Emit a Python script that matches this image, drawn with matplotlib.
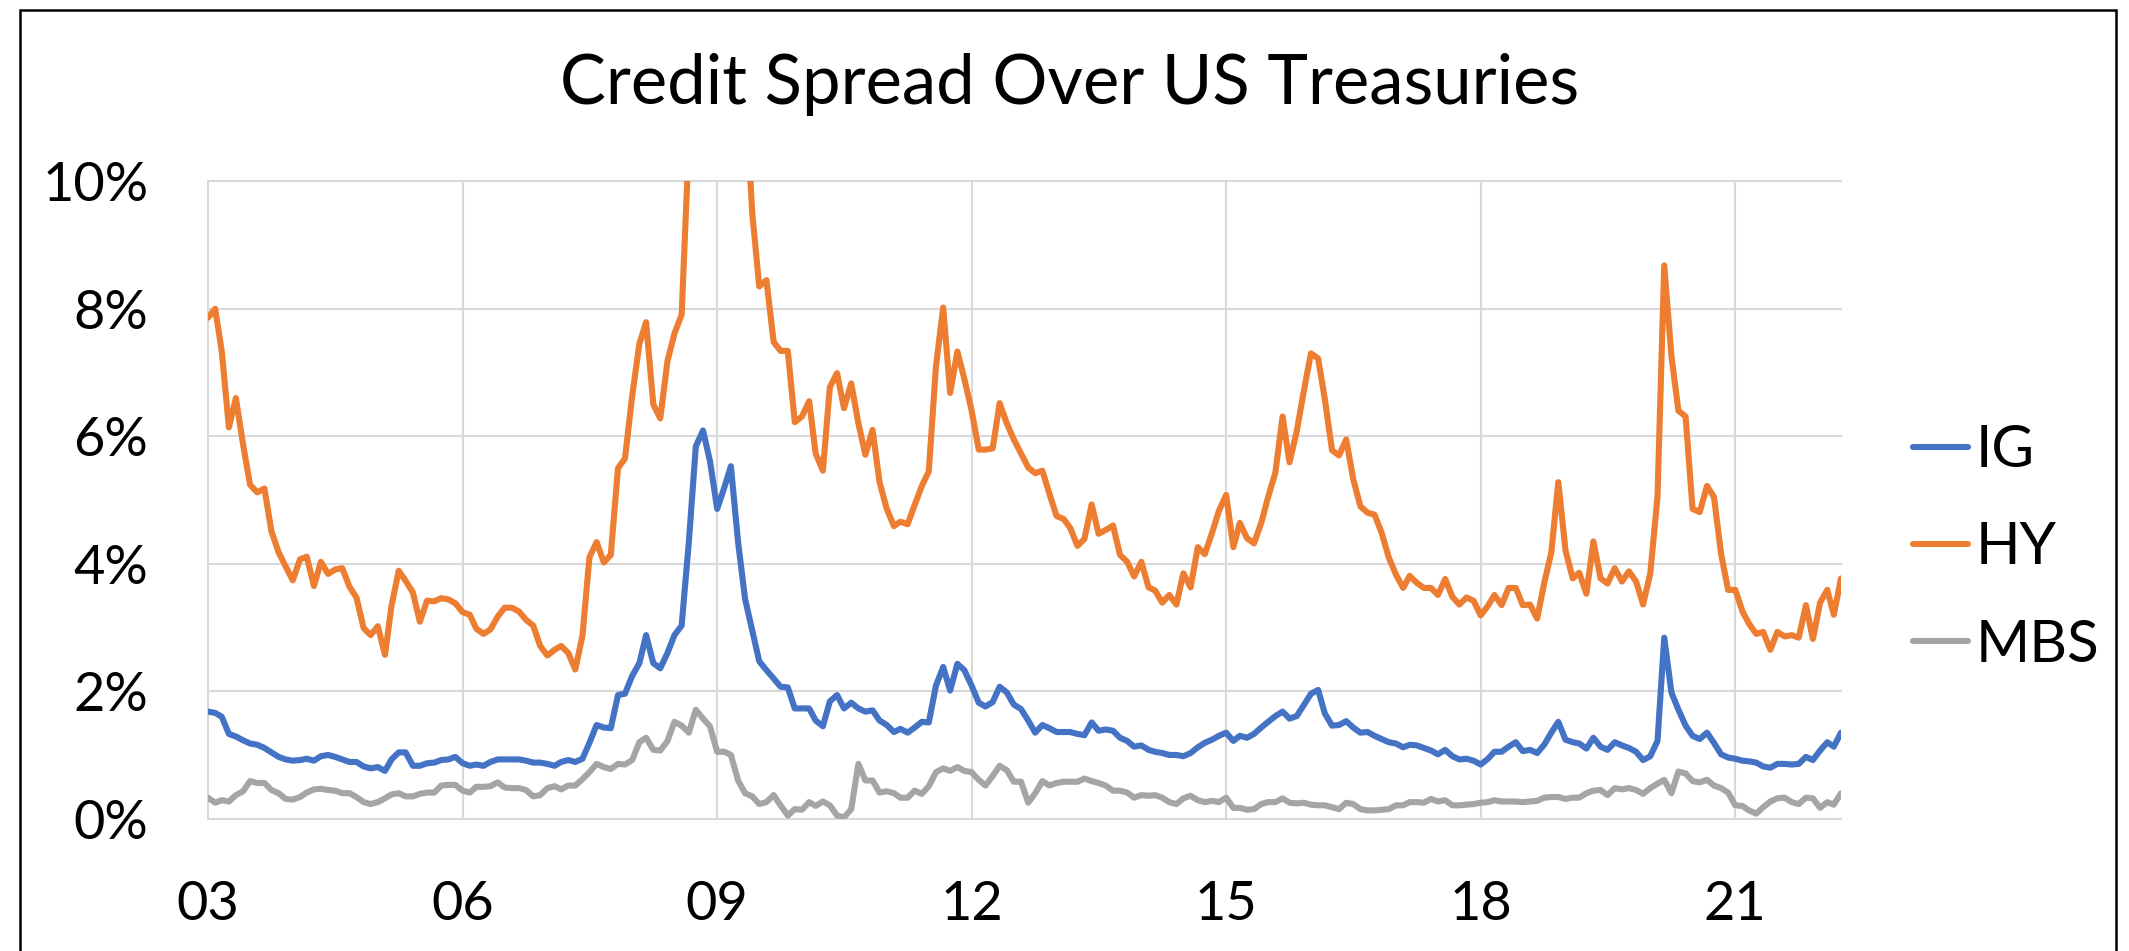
import numpy as np
import pandas as pd
import matplotlib
matplotlib.use("Agg")
import matplotlib.pyplot as plt
from matplotlib.patches import Rectangle

plt.rcParams['font.family'] = ['Lato', 'DejaVu Sans']

# Monthly option-adjusted spreads over Treasuries, in percent (Jan 2003 onward)
hy = [7.86, 8.0, 7.34, 6.14, 6.6, 5.87, 5.24, 5.12, 5.18, 4.51,
      4.18, 3.96, 3.74, 4.07, 4.11, 3.65, 4.03, 3.84, 3.91, 3.93,
      3.64, 3.47, 2.99, 2.88, 3.02, 2.57, 3.34, 3.89, 3.73, 3.55,
      3.09, 3.42, 3.41, 3.46, 3.44, 3.38, 3.24, 3.2, 2.98, 2.9,
      2.97, 3.17, 3.31, 3.31, 3.25, 3.12, 3.03, 2.71, 2.56, 2.65,
      2.71, 2.6, 2.34, 2.87, 4.1, 4.34, 4.02, 4.14, 5.5, 5.65,
      6.63, 7.45, 7.79, 6.5, 6.28, 7.18, 7.61, 7.91, 10.6, 15.5,
      19.0, 18.0, 16.0, 16.5, 17.0, 13.5, 11.5, 9.5, 8.35, 8.45,
      7.48, 7.34, 7.34, 6.22, 6.31, 6.55, 5.73, 5.46, 6.77, 6.99,
      6.44, 6.83, 6.2, 5.71, 6.1, 5.28, 4.86, 4.59, 4.66, 4.62,
      4.92, 5.22, 5.45, 7.1, 8.02, 6.68, 7.33, 6.9, 6.41, 5.79,
      5.79, 5.81, 6.52, 6.2, 5.95, 5.73, 5.51, 5.42, 5.46, 5.1,
      4.75, 4.7, 4.56, 4.28, 4.39, 4.93, 4.47, 4.53, 4.6, 4.14,
      4.03, 3.8, 4.03, 3.63, 3.58, 3.39, 3.51, 3.36, 3.85, 3.63,
      4.26, 4.15, 4.48, 4.83, 5.08, 4.26, 4.64, 4.4, 4.32, 4.64,
      5.05, 5.43, 6.31, 5.59, 6.08, 6.7, 7.3, 7.22, 6.58, 5.78,
      5.7, 5.95, 5.33, 4.9, 4.8, 4.77, 4.48, 4.1, 3.83, 3.62,
      3.81, 3.7, 3.62, 3.62, 3.51, 3.76, 3.48, 3.36, 3.47, 3.42,
      3.19, 3.34, 3.51, 3.35, 3.62, 3.62, 3.35, 3.36, 3.14, 3.69,
      4.18, 5.28, 4.21, 3.77, 3.86, 3.53, 4.35, 3.77, 3.69, 3.93,
      3.72, 3.88, 3.72, 3.36, 3.85, 5.05, 8.68, 7.26, 6.4, 6.31,
      4.86, 4.81, 5.22, 5.05, 4.15, 3.59, 3.59, 3.25, 3.06, 2.9,
      2.93, 2.65, 2.93, 2.86, 2.88, 2.84, 3.35, 2.82, 3.39, 3.59,
      3.2, 3.77]

ig = [1.68, 1.66, 1.6, 1.33, 1.29, 1.23, 1.18, 1.16, 1.11, 1.04,
      0.97, 0.93, 0.91, 0.92, 0.94, 0.91, 0.98, 1.0, 0.97, 0.93,
      0.89, 0.89, 0.82, 0.79, 0.81, 0.75, 0.93, 1.04, 1.04, 0.83,
      0.83, 0.87, 0.88, 0.92, 0.93, 0.97, 0.87, 0.83, 0.85, 0.83,
      0.89, 0.93, 0.93, 0.93, 0.93, 0.91, 0.88, 0.88, 0.86, 0.83,
      0.89, 0.92, 0.89, 0.94, 1.19, 1.47, 1.43, 1.42, 1.94, 1.96,
      2.24, 2.44, 2.88, 2.44, 2.36, 2.6, 2.88, 3.03, 4.34, 5.84,
      6.09, 5.61, 4.86, 5.2, 5.53, 4.34, 3.45, 2.95, 2.47, 2.33,
      2.2, 2.07, 2.06, 1.73, 1.73, 1.73, 1.54, 1.45, 1.84, 1.94,
      1.73, 1.82, 1.73, 1.68, 1.7, 1.54, 1.47, 1.36, 1.41, 1.35,
      1.43, 1.52, 1.51, 2.09, 2.38, 2.01, 2.43, 2.33, 2.09, 1.82,
      1.76, 1.83, 2.07, 1.98, 1.79, 1.72, 1.54, 1.35, 1.47, 1.42,
      1.36, 1.36, 1.36, 1.33, 1.31, 1.51, 1.38, 1.4, 1.38, 1.27,
      1.22, 1.13, 1.15, 1.08, 1.05, 1.03, 1.0, 1.0, 0.98, 1.03,
      1.12, 1.19, 1.24, 1.3, 1.35, 1.22, 1.3, 1.27, 1.33, 1.43,
      1.52, 1.61, 1.68, 1.57, 1.61, 1.78, 1.96, 2.02, 1.65, 1.46,
      1.47, 1.53, 1.43, 1.35, 1.36, 1.3, 1.25, 1.2, 1.18, 1.12,
      1.16, 1.15, 1.11, 1.07, 1.01, 1.08, 0.98, 0.93, 0.94, 0.91,
      0.85, 0.94, 1.05, 1.05, 1.13, 1.2, 1.06, 1.08, 1.03, 1.16,
      1.35, 1.52, 1.24, 1.2, 1.18, 1.1, 1.27, 1.13, 1.08, 1.2,
      1.15, 1.11, 1.05, 0.92, 0.98, 1.22, 2.84, 1.98, 1.71, 1.46,
      1.3, 1.25, 1.35, 1.19, 1.01, 0.96, 0.94, 0.91, 0.9, 0.88,
      0.82, 0.8, 0.86, 0.86, 0.85, 0.86, 0.97, 0.92, 1.07, 1.2,
      1.13, 1.35]

mbs = [0.33, 0.25, 0.29, 0.27, 0.37, 0.43, 0.59, 0.56, 0.56, 0.45,
       0.4, 0.31, 0.3, 0.34, 0.41, 0.46, 0.47, 0.45, 0.44, 0.4,
       0.4, 0.34, 0.26, 0.23, 0.26, 0.32, 0.38, 0.4, 0.35, 0.35,
       0.39, 0.41, 0.41, 0.52, 0.53, 0.53, 0.44, 0.41, 0.5, 0.5,
       0.51, 0.57, 0.49, 0.48, 0.48, 0.45, 0.35, 0.37, 0.48, 0.51,
       0.46, 0.52, 0.52, 0.62, 0.73, 0.86, 0.81, 0.78, 0.86, 0.85,
       0.92, 1.2, 1.27, 1.08, 1.07, 1.22, 1.52, 1.46, 1.35, 1.71,
       1.57, 1.45, 1.05, 1.05, 1.0, 0.6, 0.4, 0.35, 0.23, 0.26,
       0.37, 0.21, 0.05, 0.15, 0.14, 0.26, 0.2, 0.27, 0.21, 0.05,
       0.02, 0.15, 0.86, 0.6, 0.6, 0.41, 0.43, 0.4, 0.33, 0.33,
       0.44, 0.39, 0.51, 0.73, 0.79, 0.75, 0.81, 0.75, 0.73, 0.61,
       0.52, 0.67, 0.83, 0.76, 0.58, 0.58, 0.25, 0.4, 0.59, 0.52,
       0.56, 0.58, 0.58, 0.58, 0.63, 0.59, 0.56, 0.52, 0.44, 0.44,
       0.41, 0.33, 0.37, 0.36, 0.37, 0.33, 0.26, 0.23, 0.32, 0.36,
       0.29, 0.26, 0.28, 0.26, 0.33, 0.17, 0.17, 0.14, 0.15, 0.23,
       0.26, 0.26, 0.32, 0.25, 0.24, 0.25, 0.22, 0.21, 0.21, 0.18,
       0.15, 0.25, 0.23, 0.15, 0.13, 0.13, 0.14, 0.15, 0.21, 0.21,
       0.26, 0.26, 0.25, 0.31, 0.27, 0.29, 0.21, 0.21, 0.22, 0.23,
       0.25, 0.26, 0.29, 0.27, 0.27, 0.27, 0.26, 0.27, 0.28, 0.33,
       0.34, 0.34, 0.31, 0.33, 0.33, 0.4, 0.44, 0.45, 0.37, 0.48,
       0.46, 0.48, 0.45, 0.39, 0.48, 0.55, 0.61, 0.4, 0.74, 0.71,
       0.59, 0.57, 0.61, 0.52, 0.48, 0.41, 0.21, 0.2, 0.13, 0.08,
       0.18, 0.27, 0.32, 0.33, 0.26, 0.23, 0.33, 0.32, 0.17, 0.26,
       0.22, 0.4]

series_names = ['IG', 'HY', 'MBS']
series_colors = ['#4472C4', '#ED7D31', '#A5A5A5']
tick_years = ['2003', '2006', '2009', '2012', '2015', '2018', '2021']
y_ticks = [0, 2, 4, 6, 8, 10]

dates = pd.date_range('2003-01-01', periods=len(hy), freq='MS')

W, H = 2129, 951
fig = plt.figure(figsize=(W / 100, H / 100), dpi=100)
ax = fig.add_axes([208 / W, 1 - 818.7 / H, (1841 - 208) / W, (818.7 - 181.3) / H])

for name, color, vals in zip(series_names, series_colors, [ig, hy, mbs]):
    ax.plot(dates[:len(vals)], vals, color=color, lw=4.4, label=name,
            solid_joinstyle='round', solid_capstyle='round')

ax.set_xlim(dates[0], dates[-1])
ax.set_ylim(0, 10)

tick_pos = pd.to_datetime([y + '-01-01' for y in tick_years])
ax.set_xticks(tick_pos)
ax.set_xticklabels([y[2:] for y in tick_years])
ax.set_yticks(y_ticks)
ax.set_yticklabels([f'{v}%' for v in y_ticks])

ax.tick_params(axis='both', length=0, labelsize=39, colors='black')
ax.tick_params(axis='x', pad=44)
ax.tick_params(axis='y', pad=43)

for s in ax.spines.values():
    s.set_visible(False)
ax.set_axisbelow(True)
ax.grid(True, color='#d9d9d9', lw=1.5)
for gl in ax.xaxis.get_gridlines() + ax.yaxis.get_gridlines():
    gl.set_clip_on(False)

fig.text(1069.5 / W, 1 - 104.3 / H, 'Credit Spread Over US Treasuries',
         ha='center', va='baseline', fontsize=49.5)

ax.legend(loc='center left', bbox_to_anchor=(1913 / W, 1 - 548 / H),
          bbox_transform=fig.transFigure, frameon=False, fontsize=42,
          handlelength=0.95, handletextpad=0.12, labelspacing=0.76,
          borderpad=0, borderaxespad=0)

fig.add_artist(Rectangle((20 / W, -0.05), (2116 - 20) / W, 1 - 10 / H + 0.05,
                         transform=fig.transFigure, fill=False,
                         ec='black', lw=1.8, clip_on=False))

fig.savefig('out.png', dpi=100)
